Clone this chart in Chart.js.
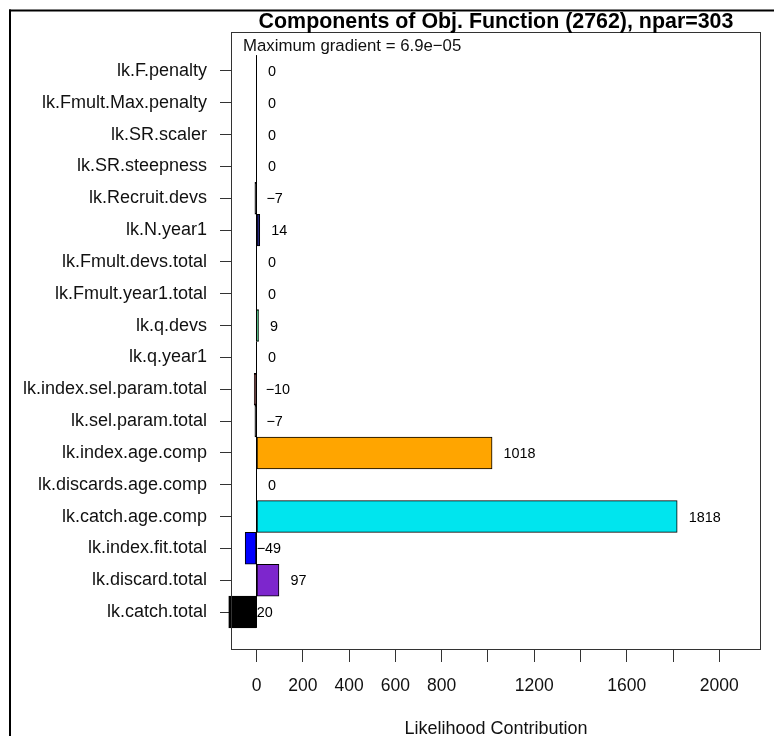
<!DOCTYPE html>
<html><head><meta charset="utf-8">
<script src="https://cdn.jsdelivr.net/npm/chart.js@4.4.1/dist/chart.umd.min.js"></script>
<style>html,body{margin:0;padding:0;background:#fff;}#wrap{position:relative;width:774px;height:736px;}canvas{display:block;}</style>
</head><body><div id="wrap"><canvas id="c" width="774" height="736"></canvas></div>
<script>
const categories = ['lk.F.penalty','lk.Fmult.Max.penalty','lk.SR.scaler','lk.SR.steepness','lk.Recruit.devs','lk.N.year1','lk.Fmult.devs.total','lk.Fmult.year1.total','lk.q.devs','lk.q.year1','lk.index.sel.param.total','lk.sel.param.total','lk.index.age.comp','lk.discards.age.comp','lk.catch.age.comp','lk.index.fit.total','lk.discard.total','lk.catch.total'];
const values = [0,0,0,0,-7,14,0,0,9,0,-10,-7,1018,0,1818,-49,97,-120];
const barColors = ['#808080','#ff0000','#00cd00','#0000ff','#000000','#27277f','#ff00ff','#ffff00','#22dd77','#8b4513','#5a0000','#000000','#ffa500','#ff69b4','#00e5ee','#0000ff','#7d26cd','#000000'];
const xTickValues = [0,200,400,600,800,1000,1200,1400,1600,1800,2000];
const xTickLabels = ['0','200','400','600','800','','1200','','1600','','2000'];
const chartTitle = 'Components of Obj. Function (2762), npar=303';
const subTitle = 'Maximum gradient = 6.9e\u221205';
const xAxisTitle = 'Likelihood Contribution';

const FONT = 'Liberation Sans, Arial, sans-serif';
const fmt = v => (v < 0 ? '\u2212' + Math.abs(v) : String(v));

const decor = {
  id: 'decor',
  beforeDraw(chart) {
    const ctx = chart.ctx;
    ctx.save();
    ctx.fillStyle = '#ffffff';
    ctx.fillRect(0, 0, chart.width, chart.height);
    ctx.fillStyle = '#000000';
    ctx.fillRect(9, 9.5, chart.width - 9, 2);
    ctx.fillRect(9, 9.5, 2, chart.height - 9.5);
    ctx.restore();
  },
  afterDatasetsDraw(chart) {
    const {ctx, chartArea: a, scales: {x}} = chart;
    const meta = chart.getDatasetMeta(0);
    ctx.save();
    // zero baseline (outline of zero-width bars)
    const x0 = x.getPixelForValue(0);
    const first = meta.data[0], last = meta.data[meta.data.length - 1];
    ctx.strokeStyle = '#000';
    ctx.lineWidth = 1;
    ctx.beginPath();
    ctx.moveTo(x0, first.y - first.height / 2);
    ctx.lineTo(x0, last.y + last.height / 2);
    ctx.stroke();
    // value labels
    ctx.fillStyle = '#000';
    ctx.font = '14.4px ' + FONT;
    ctx.textAlign = 'left';
    ctx.textBaseline = 'middle';
    meta.data.forEach((el, i) => {
      ctx.fillText(fmt(values[i]), x.getPixelForValue(values[i]) + 11.5, el.y + 1);
    });
    // plot box
    ctx.strokeStyle = '#333';
    ctx.lineWidth = 1;
    ctx.strokeRect(a.left + 0.5, a.top + 0.5, a.width - 1, a.height - 1);
    // titles
    const cx = (a.left + a.right) / 2;
    ctx.fillStyle = '#000';
    ctx.textAlign = 'center';
    ctx.textBaseline = 'alphabetic';
    ctx.font = 'bold 21.4px ' + FONT;
    ctx.fillText(chartTitle, cx, 28);
    ctx.fillStyle = '#111';
    ctx.textAlign = 'left';
    ctx.font = '16.8px ' + FONT;
    ctx.fillText(subTitle, a.left + 12, 51);
    ctx.textAlign = 'center';
    ctx.font = '18px ' + FONT;
    ctx.fillText(xAxisTitle, cx, 734);
    ctx.restore();
  }
};

new Chart(document.getElementById('c'), {
  type: 'bar',
  data: {
    datasets: [{
      data: values.map((v, i) => ({x: v, y: i})),
      backgroundColor: barColors,
      borderColor: '#000',
      borderWidth: 1,
      borderSkipped: false,
      categoryPercentage: 1,
      barPercentage: 1,
      clip: false
    }]
  },
  options: {
    indexAxis: 'y',
    responsive: false,
    animation: false,
    devicePixelRatio: 1,
    layout: {padding: {top: 32, right: 13, left: 0, bottom: 0}},
    plugins: {legend: {display: false}, tooltip: {enabled: false}, title: {display: false}},
    scales: {
      x: {
        type: 'linear', position: 'bottom', min: -110.2, max: 2180.2, offset: false,
        afterBuildTicks: s => { s.ticks = xTickValues.map(v => ({value: v})); },
        afterFit: s => { s.height = 86; },
        grid: {offset: false, drawOnChartArea: false, drawTicks: true, tickLength: 12, color: '#333', lineWidth: 1},
        border: {display: false},
        ticks: {
          callback: (v, i) => xTickLabels[i],
          font: {family: FONT, size: 17.5}, color: '#111', padding: 14,
          maxRotation: 0, minRotation: 0, autoSkip: false
        }
      },
      y: {
        type: 'linear', reverse: true, min: -1.2255, max: 18.194, offset: false,
        afterBuildTicks: s => { s.ticks = categories.map((c, i) => ({value: i})); },
        afterFit: s => { s.width = 231; },
        grid: {offset: false, drawOnChartArea: false, drawTicks: true, tickLength: 11, color: '#333', lineWidth: 1},
        border: {display: false},
        ticks: {
          callback: v => categories[v],
          font: {family: FONT, size: 18}, color: '#111', padding: 13, autoSkip: false
        }
      }
    }
  },
  plugins: [decor]
});
</script>
</body></html>
